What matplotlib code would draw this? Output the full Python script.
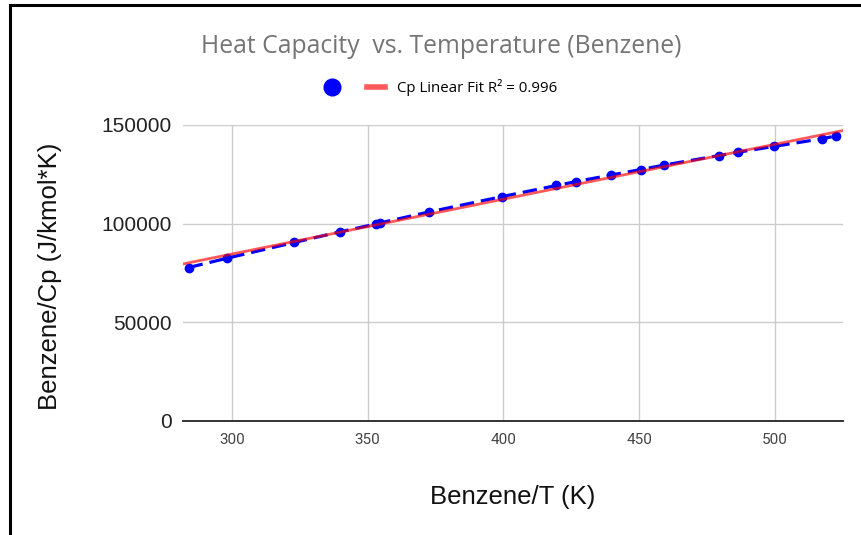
import matplotlib
matplotlib.use("Agg")
import matplotlib.pyplot as plt
import numpy as np
from matplotlib.lines import Line2D

# data
temp_k = [284.1, 298.2, 323.0, 339.8, 353.2, 354.5, 372.7, 399.6, 419.5, 426.8,
          439.6, 450.6, 459.3, 479.4, 486.5, 499.5, 517.3, 522.3]
cp_vals = [77700, 82400, 90400, 95800, 99800, 100300, 105900, 113700, 119300, 121300,
           124600, 127400, 129700, 134500, 136200, 139100, 143000, 144400]
x_ticks = [300, 350, 400, 450, 500]
y_ticks = [0, 50000, 100000, 150000]

title = "Heat Capacity  vs. Temperature (Benzene)"
fit_label = "Cp Linear Fit R\u00b2 = 0.996"

fig = plt.figure(figsize=(8.61, 5.35), dpi=100)
ax = fig.add_axes([0.2125, 0.2137, 0.979 - 0.2125, 0.7664 - 0.2137])

xmin, xmax = 282, 525
ax.set_xlim(xmin, xmax)
ax.set_ylim(0, 150000)

# series: points joined by a dashed line
ax.plot(temp_k, cp_vals, color="#0000ff", lw=2.3, dashes=(4.5, 2.2),
        marker="o", markersize=6, zorder=3)

# linear trendline
slope, intercept = np.polyfit(temp_k, cp_vals, 1)
xs = np.array([xmin, xmax])
ax.plot(xs, slope * xs + intercept, color="#ff0000", alpha=0.65, lw=2.0, zorder=4)

# grid and axes
ax.set_xticks(x_ticks)
ax.set_yticks(y_ticks)
ax.grid(True, color="#cccccc", lw=1.0)
ax.set_axisbelow(True)
for s in ["top", "right", "left"]:
    ax.spines[s].set_visible(False)
ax.spines["bottom"].set_color("#333333")
ax.spines["bottom"].set_linewidth(1.4)
ax.tick_params(length=0)
ax.tick_params(axis="y", pad=8, labelsize=15, labelcolor="#222222")
ax.tick_params(axis="x", pad=9, labelsize=11, labelcolor="#444444")
for lab in ax.get_yticklabels():
    lab.set_family(["Liberation Sans", "DejaVu Sans"])
for lab in ax.get_xticklabels():
    lab.set_family(["Liberation Sans Narrow", "Roboto", "DejaVu Sans"])

fig.text(0.596, 1 - 497 / 535, "Benzene/T (K)", ha="center", va="center",
         fontsize=18.5, color="#111111", family=["Liberation Sans", "DejaVu Sans"])
fig.text(50 / 861, 1 - 276 / 535, "Benzene/Cp (J/kmol*K)", ha="center", va="center",
         rotation=90, fontsize=18.5, color="#111111",
         family=["Liberation Sans", "DejaVu Sans"])

fig.text(441 / 861, 1 - 47 / 535, title, ha="center", va="center",
         fontsize=17.8, color="#757575", family=["Open Sans", "DejaVu Sans"])

# legend: unnamed point series and the fit line
handles = [Line2D([], [], color="#0000ff", marker="o", markersize=12, lw=0),
           Line2D([], [], color="#ff0000", alpha=0.65, lw=4)]
fig.legend(handles, ["", fit_label], loc="center", ncol=2, frameon=False,
           bbox_to_anchor=(0.511, 1 - 88 / 535), handlelength=1.2,
           handletextpad=0.8, columnspacing=0.9,
           prop={"family": ["Open Sans", "DejaVu Sans"], "size": 10.8})

# frame lines at the top and left edge of the picture
fig.add_artist(Line2D([9.5 / 861, 9.5 / 861], [0, 1 - 5.3 / 535],
                      color="black", lw=2.2, transform=fig.transFigure))
fig.add_artist(Line2D([9.5 / 861, 1], [1 - 5.3 / 535, 1 - 5.3 / 535],
                      color="black", lw=2.2, transform=fig.transFigure))

fig.savefig("out.png", dpi=100)
